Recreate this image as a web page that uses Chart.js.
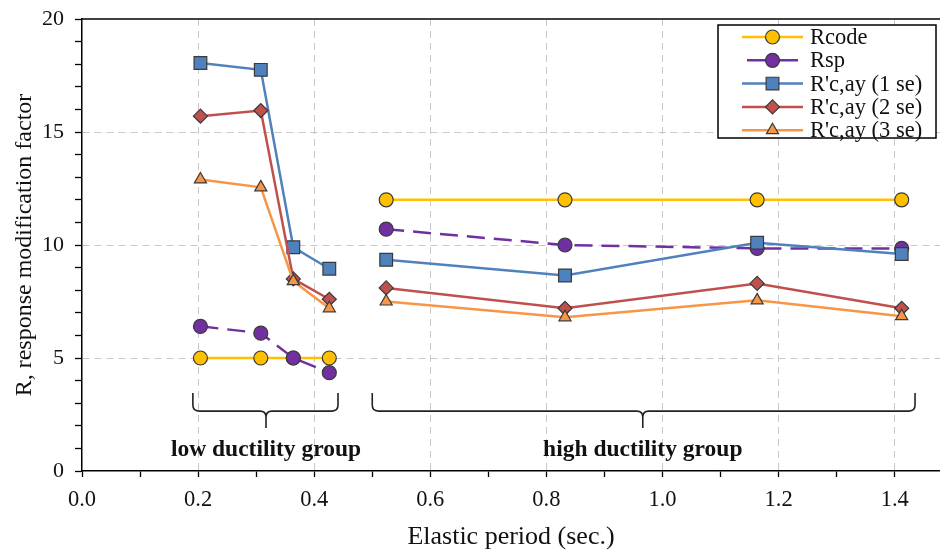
<!DOCTYPE html>
<html>
<head>
<meta charset="utf-8">
<script src="https://cdn.jsdelivr.net/npm/chart.js@4/dist/chart.umd.min.js"></script>
<style>
html,body{margin:0;padding:0;background:#fff;}
#wrap{width:940px;height:550px;position:relative;}
</style>
</head>
<body>
<div id="wrap"><canvas id="c" width="940" height="550"></canvas></div>
<script>
// ---------- data ----------
const lowPeriods  = [0.204, 0.308, 0.364, 0.426];
const highPeriods = [0.524, 0.832, 1.163, 1.412];
const seriesNames = ["Rcode", "Rsp", "R'c,ay (1 se)", "R'c,ay (2 se)", "R'c,ay (3 se)"];
const rcode = [5, 5, 5, 5,          12, 12, 12, 12];
const rsp   = [6.4, 6.1, 5.0, 4.35, 10.7, 10.0, 9.85, 9.85];
const r1se  = [18.05, 17.75, 9.9, 8.95, 9.35, 8.65, 10.1, 9.6];
const r2se  = [15.7, 15.95, 8.5, 7.6,   8.1, 7.2, 8.3, 7.2];
const r3se  = [12.9, 12.55, 8.4, 7.2,   7.5, 6.8, 7.55, 6.85];
const groupLabels = ["low ductility group", "high ductility group"];
const xTickLabels = ["0.0", "0.2", "0.4", "0.6", "0.8", "1.0", "1.2", "1.4"];
const yTickLabels = ["0", "5", "10", "15", "20"];

// ---------- layout / style config ----------
const SERIF = '"Liberation Serif", "Times New Roman", serif';
const seriesStyles = [
  {color: '#FFC000', point: 'circle',   radius: 7, dash: []},
  {color: '#7030A0', point: 'circle',   radius: 7, dash: [18, 9]},
  {color: '#4F81BD', point: 'rect',     radius: 9, dash: []},
  {color: '#C0504D', point: 'rectRot',  radius: 7, dash: []},
  {color: '#F79646', point: 'triangle', radius: 7, dash: []}
];
const braceSpans = [
  {from: 0.191, to: 0.441, mid: 0.317},
  {from: 0.500, to: 1.435, mid: 0.966}
];
const BRACE = {top: 3.45, bar: 2.65, tip: 1.9, text: 0.95};
const LEGEND = {x: 718, y: 25, w: 218, h: 113, lineX1: 742, lineX2: 803, textX: 810, row0: 37, rowStep: 23.3};

function buildPoints(vals) {
  const out = [];
  lowPeriods.forEach((p, i) => out.push({x: p, y: vals[i]}));
  out.push({x: (lowPeriods[lowPeriods.length - 1] + highPeriods[0]) / 2, y: null});
  highPeriods.forEach((p, i) => out.push({x: p, y: vals[lowPeriods.length + i]}));
  return out;
}
const allSeries = [rcode, rsp, r1se, r2se, r3se];
const datasets = allSeries.map((vals, i) => {
  const s = seriesStyles[i];
  return {
    label: seriesNames[i],
    data: buildPoints(vals),
    borderColor: s.color,
    backgroundColor: s.color,
    borderWidth: 2.5,
    borderDash: s.dash,
    pointStyle: s.point,
    pointRadius: s.radius,
    pointBackgroundColor: s.color,
    pointBorderColor: '#3a3a3a',
    pointBorderWidth: 1.2,
    spanGaps: false,
    tension: 0,
    clip: false,
    order: 5 - i
  };
});

function drawMarker(ctx, style, x, y, r) {
  ctx.beginPath();
  if (style === 'circle') {
    ctx.arc(x, y, r, 0, Math.PI * 2);
  } else if (style === 'rect') {
    const h = r * Math.SQRT1_2;
    ctx.rect(x - h, y - h, 2 * h, 2 * h);
  } else if (style === 'rectRot') {
    ctx.moveTo(x - r, y); ctx.lineTo(x, y - r); ctx.lineTo(x + r, y); ctx.lineTo(x, y + r); ctx.closePath();
  } else if (style === 'triangle') {
    ctx.moveTo(x, y - r);
    ctx.lineTo(x + r * Math.cos(Math.PI / 6), y + r * 0.5);
    ctx.lineTo(x - r * Math.cos(Math.PI / 6), y + r * 0.5);
    ctx.closePath();
  }
  ctx.fill();
  ctx.stroke();
}

const decorPlugin = {
  id: 'decor',
  beforeDatasetsDraw(chart) {
    const {ctx, chartArea: a} = chart;
    ctx.save();
    ctx.strokeStyle = '#000';
    ctx.lineWidth = 1.5;
    ctx.beginPath();
    ctx.moveTo(a.left, a.top);
    ctx.lineTo(a.right, a.top);
    ctx.stroke();
    ctx.restore();
  },
  afterDatasetsDraw(chart) {
    const {ctx, scales: {x, y}} = chart;
    ctx.save();
    ctx.strokeStyle = '#222';
    ctx.lineWidth = 1.6;
    const r = 6;
    braceSpans.forEach((s, i) => {
      const x1 = x.getPixelForValue(s.from), x2 = x.getPixelForValue(s.to), xc = x.getPixelForValue(s.mid);
      const yt = y.getPixelForValue(BRACE.top), yb = y.getPixelForValue(BRACE.bar), ytip = y.getPixelForValue(BRACE.tip);
      ctx.beginPath();
      ctx.moveTo(x1, yt);
      ctx.lineTo(x1, yb - r);
      ctx.quadraticCurveTo(x1, yb, x1 + r, yb);
      ctx.lineTo(xc - r, yb);
      ctx.quadraticCurveTo(xc, yb, xc, yb + r);
      ctx.lineTo(xc, ytip);
      ctx.moveTo(xc, yb + r);
      ctx.quadraticCurveTo(xc, yb, xc + r, yb);
      ctx.lineTo(x2 - r, yb);
      ctx.quadraticCurveTo(x2, yb, x2, yb - r);
      ctx.lineTo(x2, yt);
      ctx.stroke();
      ctx.font = 'bold 23.5px ' + SERIF;
      ctx.fillStyle = '#111';
      ctx.textAlign = 'center';
      ctx.textBaseline = 'middle';
      ctx.fillText(groupLabels[i], xc, y.getPixelForValue(BRACE.text));
    });
    ctx.restore();
  },
  afterDraw(chart) {
    const {ctx} = chart;
    const L = LEGEND;
    ctx.save();
    ctx.fillStyle = '#fff';
    ctx.fillRect(L.x, L.y, L.w, L.h);
    ctx.strokeStyle = '#000';
    ctx.lineWidth = 1.5;
    ctx.strokeRect(L.x, L.y, L.w, L.h);
    chart.data.datasets.forEach((ds, i) => {
      const st = seriesStyles[i];
      const yy = L.row0 + i * L.rowStep;
      ctx.strokeStyle = st.color;
      ctx.lineWidth = 2.5;
      ctx.setLineDash([]);
      ctx.beginPath();
      const mx = (L.lineX1 + L.lineX2) / 2;
      if (i === 1) {
        ctx.moveTo(L.lineX1 + 5, yy); ctx.lineTo(L.lineX2 - 5, yy);
      } else {
        ctx.moveTo(L.lineX1, yy); ctx.lineTo(L.lineX2, yy);
      }
      ctx.stroke();
      ctx.fillStyle = st.color;
      ctx.strokeStyle = '#3a3a3a';
      ctx.lineWidth = 1.2;
      drawMarker(ctx, st.point, mx, yy, st.radius);
      ctx.fillStyle = '#111';
      ctx.font = '22.5px ' + SERIF;
      ctx.textAlign = 'left';
      ctx.textBaseline = 'middle';
      ctx.fillText(ds.label, L.textX, yy + 1);
    });
    ctx.restore();
  }
};

const isMult = (v, step) => Math.abs(v / step - Math.round(v / step)) < 1e-6;

new Chart(document.getElementById('c'), {
  type: 'line',
  data: {datasets},
  options: {
    responsive: false,
    animation: false,
    layout: {autoPadding: false, padding: {top: 19, right: 0, left: 0, bottom: 0}},
    plugins: {legend: {display: false}, tooltip: {enabled: false}},
    scales: {
      x: {
        type: 'linear',
        min: 0,
        max: 1.478,
        afterBuildTicks: (axis) => { axis.ticks = axis.ticks.filter(t => isMult(t.value, 0.1)); },
        afterFit: (scale) => { scale.height = 79; scale.paddingLeft = 0; scale.paddingRight = 0; },
        ticks: {
          stepSize: 0.1,
          includeBounds: false,
          autoSkip: false,
          maxRotation: 0,
          padding: 10,
          color: '#111',
          font: {family: SERIF, size: 22.5},
          callback: (v) => {
            const k = Math.round(v * 10);
            return (k % 2 === 0) ? xTickLabels[k / 2] : '';
          }
        },
        grid: {
          color: (c) => (c.tick && c.tick.value > 0 && isMult(c.tick.value, 0.2)) ? '#c8c8c8' : 'rgba(0,0,0,0)',
          lineWidth: 1,
          tickColor: '#000',
          tickLength: 6,
          tickWidth: 1.3
        },
        border: {display: true, color: '#000', width: 1.5, dash: [7, 5]},
        title: {
          display: true,
          text: 'Elastic period (sec.)',
          color: '#111',
          font: {family: SERIF, size: 26, lineHeight: 1.0},
          padding: {top: 0, bottom: 0}
        }
      },
      y: {
        type: 'linear',
        min: 0,
        max: 20,
        afterFit: (scale) => { scale.width = 82; scale.paddingTop = 0; scale.paddingBottom = 0; },
        ticks: {
          stepSize: 1,
          autoSkip: false,
          padding: 11,
          color: '#111',
          font: {family: SERIF, size: 22},
          callback: (v) => (v % 5 === 0) ? yTickLabels[v / 5] : ''
        },
        grid: {
          color: (c) => (c.tick && c.tick.value > 0 && c.tick.value < 20 && c.tick.value % 5 === 0) ? '#c8c8c8' : 'rgba(0,0,0,0)',
          lineWidth: 1,
          tickColor: '#000',
          tickLength: 7,
          tickWidth: 1.3
        },
        border: {display: true, color: '#000', width: 1.5, dash: [7, 5]},
        title: {
          display: true,
          text: 'R, response modification factor',
          color: '#111',
          font: {family: SERIF, size: 24},
          padding: {top: 10, bottom: 0}
        }
      }
    }
  },
  plugins: [decorPlugin]
});
</script>
</body>
</html>
